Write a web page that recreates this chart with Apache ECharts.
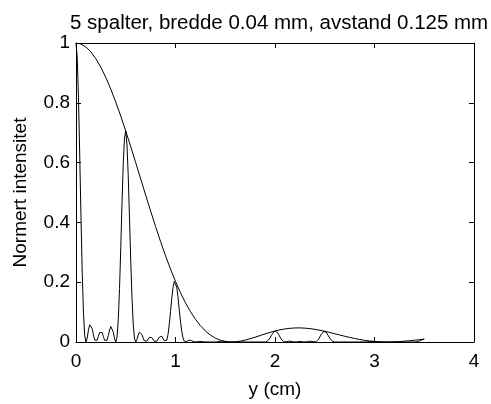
<!DOCTYPE html>
<html>
<head>
<meta charset="utf-8">
<script src="https://cdn.jsdelivr.net/npm/echarts@6/dist/echarts.min.js"></script>
<style>
html,body{margin:0;padding:0;background:#fff;}
#chart{width:491px;height:404px;}
</style>
</head>
<body>
<div id="chart"></div>
<script>
// Title and axis texts
const titleText = '5 spalter, bredde 0.04 mm, avstand 0.125 mm';
const xName = 'y (cm)';
const yName = 'Normert intensitet';
const xTicks = [0, 1, 2, 3, 4];
const yTicks = [0, 0.2, 0.4, 0.6, 0.8, 1];

// Envelope (single-slit) curve
const envX = [0,0.05,0.1,0.15,0.2,0.25,0.3,0.35,0.4,0.45,
  0.5,0.55,0.6,0.65,0.7,0.75,0.8,0.85,0.9,0.95,
  1.0,1.05,1.1,1.15,1.2,1.25,1.3,1.35,1.4,1.45,
  1.5,1.55,1.6,1.65,1.7,1.75,1.8,1.85,1.9,1.95,
  2.0,2.05,2.1,2.15,2.2,2.25,2.3,2.35,2.4,2.45,
  2.5,2.55,2.6,2.65,2.7,2.75,2.8,2.85,2.9,2.95,
  3.0,3.05,3.1,3.15,3.2,3.25,3.3,3.35,3.4,3.45,3.5];
const envY = [1,0.99664,0.98660,0.97005,0.94724,0.91857,0.88446,0.84547,0.80215,0.75523,
  0.70538,0.65334,0.59984,0.54565,0.49148,0.43803,0.38596,0.33587,0.28831,0.24373,
  0.20252,0.16499,0.13135,0.10174,0.07620,0.05470,0.03712,0.02331,0.01300,0.00592,
  0.00173,0.00007,0.00055,0.00278,0.00638,0.01095,0.01613,0.02158,0.02700,0.03212,
  0.03672,0.04061,0.04366,0.04580,0.04696,0.04715,0.04640,0.04479,0.04240,0.03936,
  0.03580,0.03187,0.02771,0.02348,0.01930,0.01533,0.01166,0.00840,0.00562,0.00338,
  0.00170,0.00060,0.00007,0.00006,0.00055,0.00145,0.00270,0.00421,0.00590,0.00768,0.00946];

// Five-slit intensity curve
const slitX = [0,0.0125,0.025,0.0375,0.05,0.0625,0.075,0.0875,0.1,0.1125,
  0.125,0.1375,0.15,0.1625,0.175,0.1875,0.2,0.2125,0.225,0.2375,
  0.25,0.2625,0.275,0.2875,0.3,0.3125,0.325,0.3375,0.35,0.3625,
  0.375,0.3875,0.4,0.4125,0.425,0.4375,0.45,0.4625,0.475,0.4875,
  0.5,0.5125,0.525,0.5375,0.55,0.5625,0.575,0.5875,0.6,0.6125,
  0.625,0.6375,0.65,0.6625,0.675,0.6875,0.7,0.7125,0.725,0.7375,
  0.75,0.7625,0.775,0.7875,0.8,0.8125,0.825,0.8375,0.85,0.8625,
  0.875,0.8875,0.9,0.9125,0.925,0.9375,0.95,0.9625,0.975,0.9875,
  1.0,1.0125,1.025,1.0375,1.05,1.0625,1.075,1.0875,1.1,1.1125,
  1.125,1.1375,1.15,1.1625,1.175,1.1875,1.2,1.2125,1.225,1.2375,
  1.25,1.2625,1.275,1.2875,1.3,
  1.4,1.425,1.45,1.475,1.5,1.525,1.55,
  1.9,1.9125,1.925,1.9375,1.95,1.9625,1.975,1.9875,
  2.0,2.0125,2.025,2.0375,2.05,2.0625,2.075,2.0875,
  2.1,2.1125,2.125,2.1375,2.15,2.1625,2.175,2.1875,
  2.2,2.2125,2.225,2.2375,2.25,2.2625,2.275,2.2875,
  2.3,2.3125,2.325,2.3375,2.35,2.3625,2.375,2.3875,
  2.4,2.4125,2.425,2.4375,2.45,2.4625,2.475,2.4875,
  2.5,2.5125,2.525,2.5375,2.55,2.5625,2.575,2.5875,2.6,
  2.9,2.925,2.95,2.975,3.0,3.025,3.05,3.1,
  3.4,3.4125,3.425,3.4375,3.45,3.4625,3.475,3.4875,3.5];
const slitY = [1,0.95140,0.81661,0.62533,0.41747,0.23191,0.09631,0.02124,0,0.01366,
  0.03916,0.05756,0.05928,0.04530,0.02416,0.00654,0,0.00583,0.01913,0.03180,
  0.03674,0.03127,0.01849,0.00554,0,0.00600,0.02179,0.04017,0.05167,0.04930,
  0.03296,0.01129,0,0.01697,0.07558,0.17883,0.31635,0.46550,0.59697,0.68325,
  0.70538,0.65908,0.55544,0.41757,0.27367,0.14920,0.06081,0.01316,0,0.00814,
  0.02291,0.03302,0.03334,0.02499,0.01306,0.00347,0,0.00296,0.00953,0.01551,
  0.01752,0.01460,0.00845,0.00247,0,0.00256,0.00909,0.01636,0.02053,0.01913,
  0.01248,0.00417,0,0.00595,0.02581,0.05942,0.10209,0.14623,0.18234,0.20250,
  0.20252,0.18375,0.15022,0.10920,0.06911,0.03648,0.01437,0.00300,0,0.00171,
  0.00462,0.00636,0.00622,0.00448,0.00224,0.00057,0,0.00043,0.00131,0.00198,
  0.00219,0.00173,0.00094,0.00026,0,
  0,0.0009,0.0025,0.0029,0.0017,0.00065,0,
  0,0.00061,0.00287,0.00718,0.01345,0.02086,0.02811,0.03388,
  0.03672,0.03588,0.03163,0.02481,0.01701,0.00965,0.00409,0.00092,
  0,0.00062,0.0018,0.00269,0.0028,0.00216,0.00117,0.00032,
  0,0.00029,0.00096,0.00162,0.00189,0.00161,0.00096,0.00029,
  0,0.00032,0.00115,0.00212,0.00274,0.00261,0.00174,0.0006,
  0,0.00089,0.00397,0.00937,0.01649,0.02412,0.03073,0.03492,
  0.03580,0.03312,0.02762,0.02055,0.01335,0.00718,0.00289,0.00062,0,
  0,0.00044,0.00141,0.00204,0.0017,0.00094,0.00025,0,
  0,0.00014,0.00066,0.00169,0.00322,0.00509,0.00700,0.00858,0.00946];

const FONT = "'Liberation Sans', Arial, Helvetica, sans-serif";
const chart = echarts.init(document.getElementById('chart'), null, {renderer: 'canvas'});

function axisCommon(isLabelled) {
  return {
    axisLine: {show: true, onZero: false, lineStyle: {color: '#000', width: 1}},
    axisTick: {show: true, inside: true, length: 5, lineStyle: {color: '#000', width: 1}},
    splitLine: {show: false},
    axisLabel: {show: isLabelled, color: '#000', fontSize: 19, fontFamily: FONT}
  };
}

const option = {
  backgroundColor: '#fff',
  animation: false,
  title: {
    text: titleText,
    left: 65,
    top: 8,
    textStyle: {fontSize: 20.5, fontWeight: 'normal', color: '#000', fontFamily: FONT}
  },
  grid: {left: 76, top: 43, width: 398, height: 303, containLabel: false},
  xAxis: [
    Object.assign(axisCommon(true), {
      type: 'value', position: 'bottom', min: xTicks[0], max: xTicks[xTicks.length - 1], interval: 1,
      name: xName, nameLocation: 'middle', nameGap: 38,
      nameTextStyle: {color: '#000', fontSize: 19, fontFamily: FONT}
    }),
    Object.assign(axisCommon(false), {
      type: 'value', position: 'top', min: xTicks[0], max: xTicks[xTicks.length - 1], interval: 1
    })
  ],
  yAxis: [
    Object.assign(axisCommon(true), {
      type: 'value', position: 'left', min: yTicks[0], max: yTicks[yTicks.length - 1], interval: 0.2,
      name: yName, nameLocation: 'middle', nameGap: 46, nameRotate: 90,
      nameTextStyle: {color: '#000', fontSize: 19, fontFamily: FONT}
    }),
    Object.assign(axisCommon(false), {
      type: 'value', position: 'right', min: yTicks[0], max: yTicks[yTicks.length - 1], interval: 0.2
    })
  ],
  series: [
    {
      type: 'line', name: 'envelope', xAxisIndex: 0, yAxisIndex: 0,
      data: envX.map((x, i) => [x, envY[i]]),
      showSymbol: false, symbol: 'none',
      lineStyle: {color: '#000', width: 1}
    },
    {
      type: 'line', name: 'intensity', xAxisIndex: 0, yAxisIndex: 0,
      data: slitX.map((x, i) => [x, slitY[i]]),
      showSymbol: false, symbol: 'none',
      lineStyle: {color: '#000', width: 1}
    }
  ]
};
option.xAxis[0].axisLabel.margin = 10;
option.yAxis[0].axisLabel.margin = 6;
chart.setOption(option);
</script>
</body>
</html>
